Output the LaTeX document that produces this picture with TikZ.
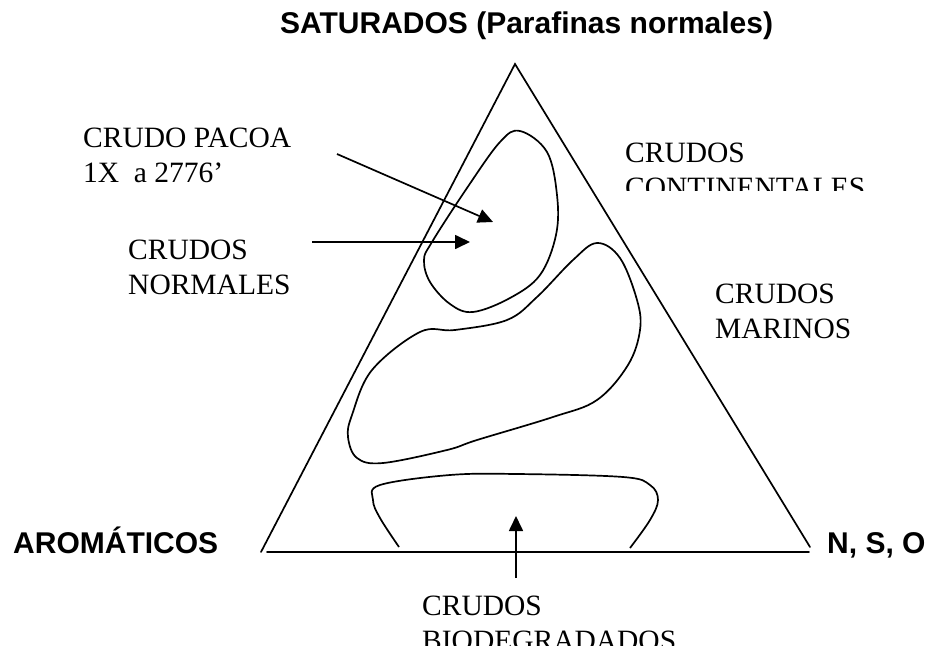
\documentclass[tikz,border=0pt]{standalone}
\usepackage{fontspec}
\setmainfont{Liberation Serif}
\newfontfamily\headfont{Liberation Sans}
\definecolor{ink}{HTML}{000000}
\usetikzlibrary{arrows.meta, positioning}
\tikzset{
  lbl/.style={font=\fontsize{29.5}{35}\selectfont, align=left, inner sep=0pt, anchor=base west},
  corner/.style={font=\headfont\bfseries\fontsize{30}{35}\selectfont, inner sep=0pt, anchor=base west},
  rim/.style={line width=1.7pt, color=ink, line cap=round},
  contour/.style={line width=1.7pt, color=ink},
  flow/.style={-{Triangle[length=15pt,width=14pt]}, line width=1.7pt, color=ink},
}
\begin{document}
\begin{tikzpicture}[x=1pt,y=-1pt]
\useasboundingbox (0,0) rectangle (929,648);
% triangle corners
\coordinate (apex) at (515,64);
\coordinate (lc) at (261,552);
\coordinate (rc) at (810,547);
\coordinate (b1) at (267,552);
\coordinate (b2) at (809,552);
\draw[rim] (lc) -- (apex) -- (rc);
\draw[rim] (b1) -- (b2);

% regions
\draw[contour] plot[smooth cycle, tension=0.6] coordinates {(520,131) (547,152) (557,195) (556,235) (540,275) (510,298) (473,312) (450,304) (430,282) (424,260) (432,242) (467,188) (500,142)};
\draw[contour] plot[smooth cycle, tension=0.6] coordinates {(597,243) (620,258) (637,300) (640,330) (628,365) (597,400) (553,417) (477,440) (447,450) (383,463) (357,458) (348,437) (352,415) (372,370) (420,332) (455,330) (507,320) (537,297) (573,260)};
\draw[contour] plot[smooth, tension=0.6] coordinates {(399,547) (380,518) (373,500) (380,485) (450,475) (517,474) (623,477) (650,485) (658,500) (650,520) (630,548)};

% labels
\node[corner] (sat) at (280,33) {SATURADOS (Parafinas normales)};
\node[corner] (aro) at (13,553) {AROMÁTICOS};
\node[corner] (nso) at (827,553) {N, S, O};
\node[lbl] (pacoa) at (83,182) {CRUDO PACOA\\1X\ \ a 2776’};
\node[lbl] (norm) at (128,294) {CRUDOS\\NORMALES};
\node[lbl] (mar) at (715,338) {CRUDOS\\MARINOS};
\begin{scope}
  \clip (600,120) rectangle (900,190);
  \node[lbl] (cont) at (625,197) {CRUDOS\\CONTINENTALES};
\end{scope}
\begin{scope}
  \clip (400,570) rectangle (700,645);
  \node[lbl] (bio) at (422,650) {CRUDOS\\BIODEGRADADOS};
\end{scope}

% arrows
\coordinate (pacoa tail) at (337,154);
\coordinate (pacoa tip) at (493,222);
\coordinate (norm tail) at (312,242);
\coordinate (norm tip) at (470,242);
\coordinate (bio tail) at (516,578);
\coordinate (bio tip) at (516,516);
\draw[flow] (pacoa tail) -- (pacoa tip);
\draw[flow] (norm tail) -- (norm tip);
\draw[flow] (bio tail) -- (bio tip);
\end{tikzpicture}
\end{document}
